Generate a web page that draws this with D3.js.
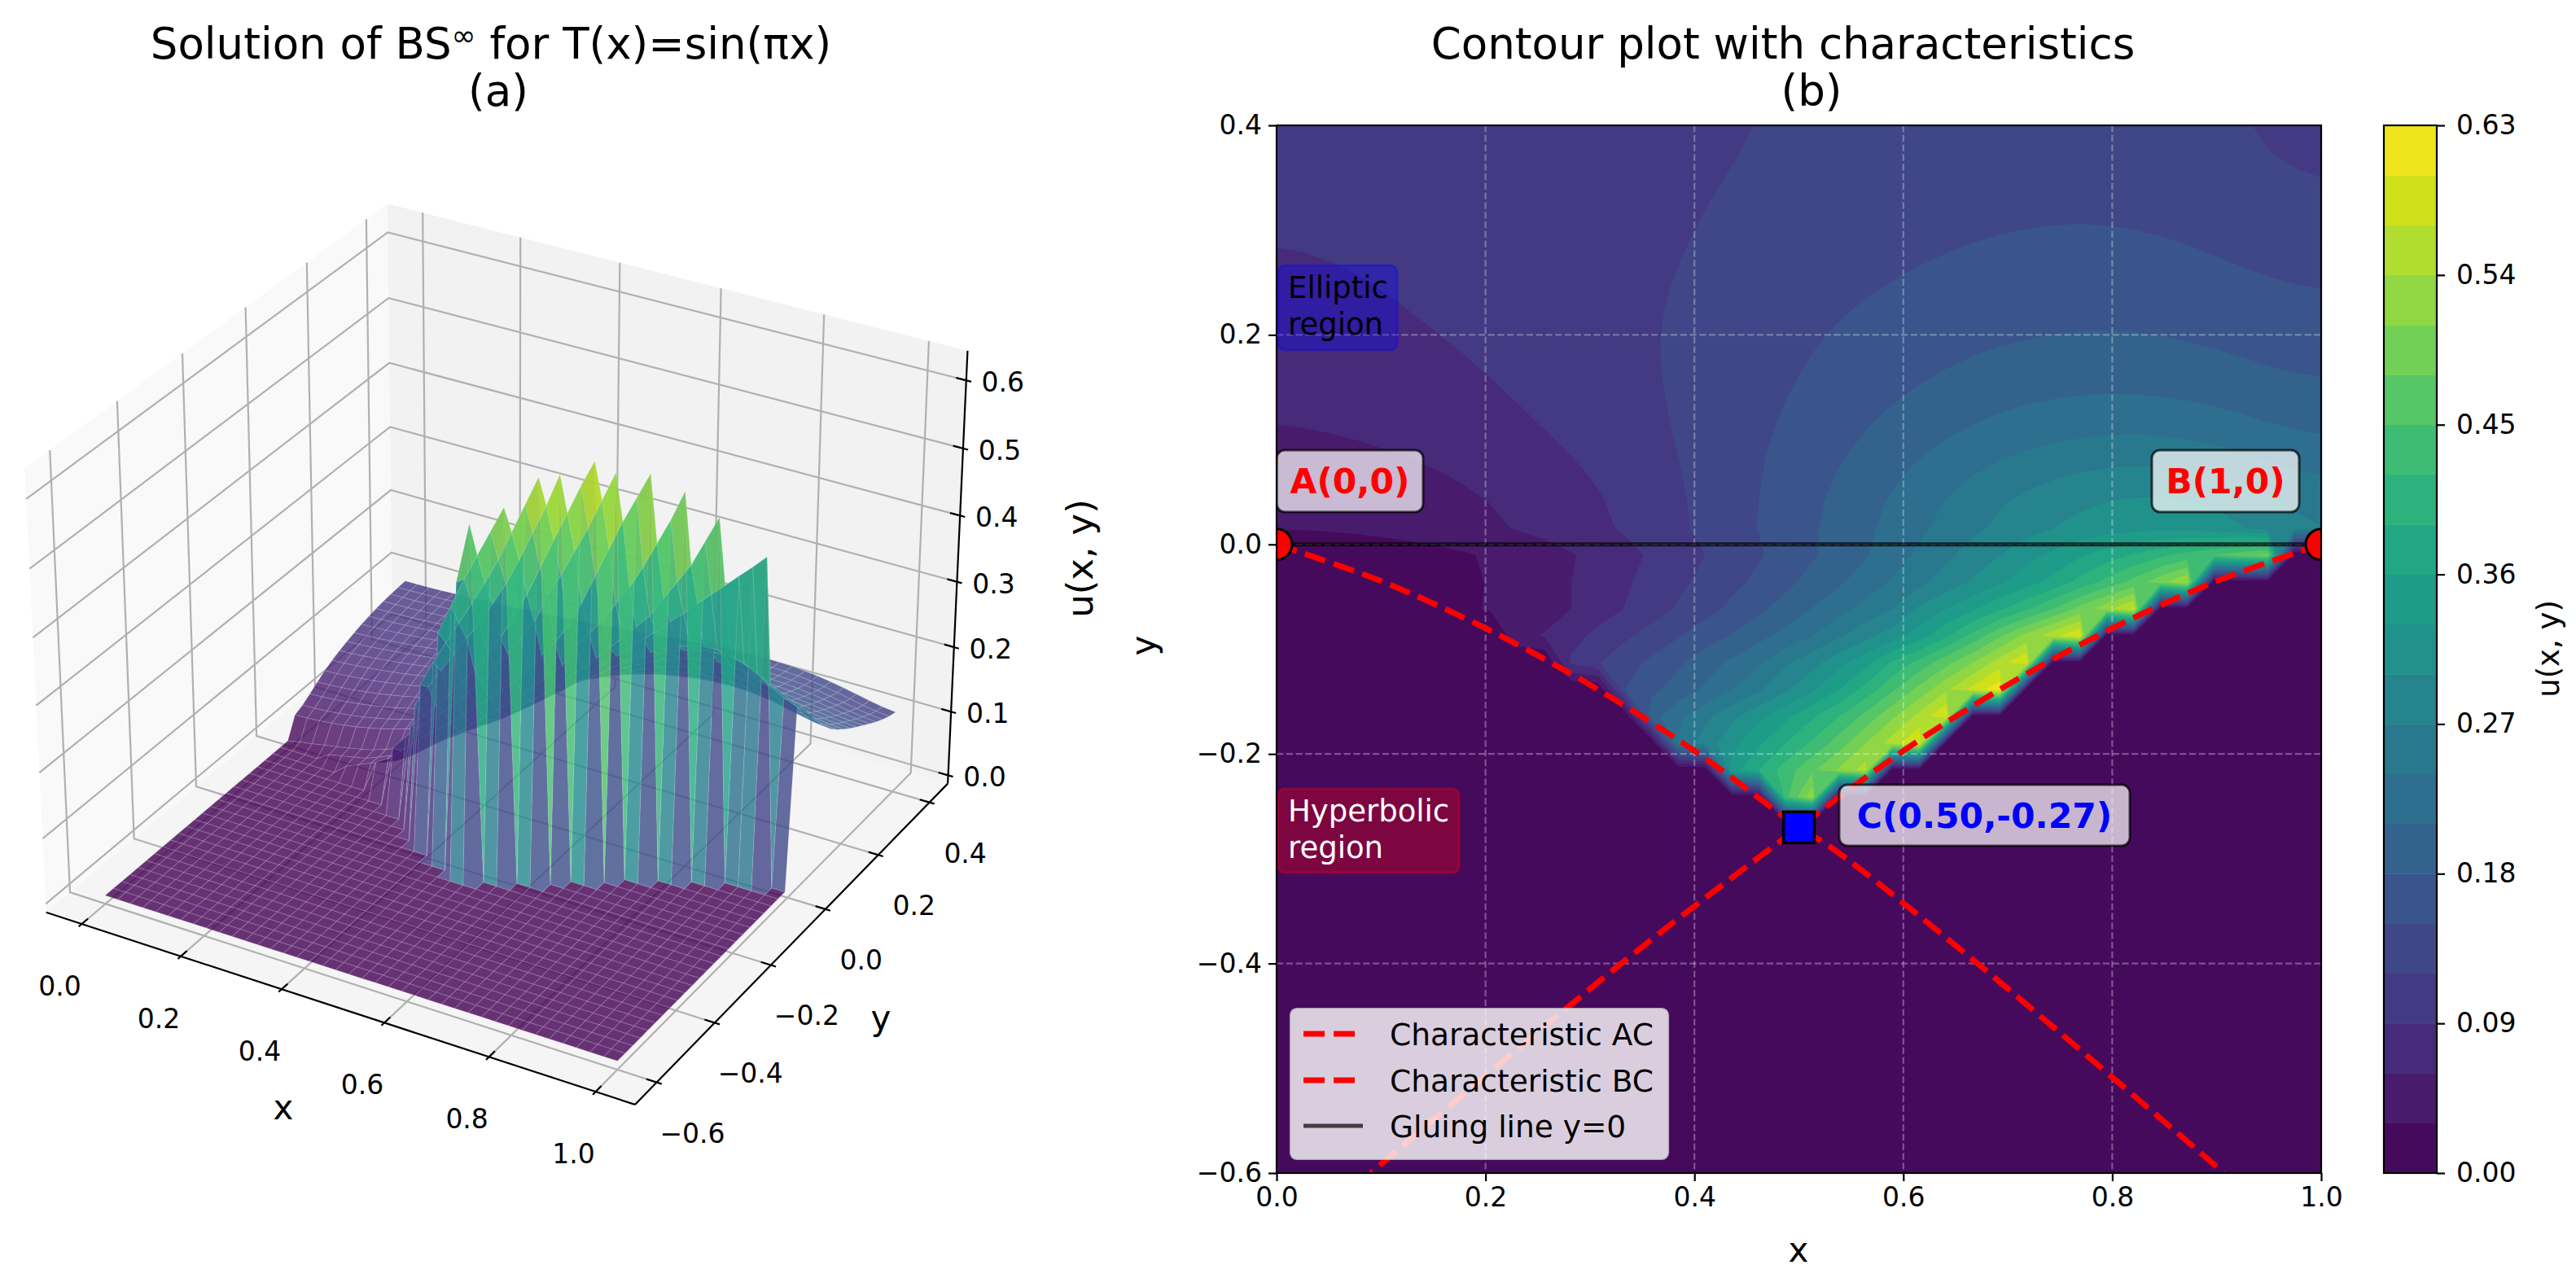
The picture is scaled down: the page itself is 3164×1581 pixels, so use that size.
<!DOCTYPE html>
<html>
<head>
<meta charset="utf-8">
<script src="https://cdn.jsdelivr.net/npm/d3@7"></script>
<style>
  body { margin: 0; background: #fff; }
  text { font-family: "DejaVu Sans", sans-serif; fill: #000; }
</style>
</head>
<body>
<div id="chart"></div>
<script>
// values of u(x, y). grid has 40 columns, x = 0 .. 1
// rows above the gluing line, from y = 0.015 up to y = 0.4
const uRowsAbove = [
  [.016,.017,.019,.021,.023,.026,.029,.034,.042,.049,.055,.062,.071,.084,.097,.109,.123,.137,.151,.164,.178,.193,.209,.226,.245,.264,.283,.302,.320,.336,.351,.363,.372,.378,.380,.375,.355,.330,.305,.285],
  [.034,.035,.036,.038,.041,.045,.049,.054,.059,.065,.071,.077,.084,.094,.105,.116,.128,.140,.153,.165,.178,.192,.207,.224,.240,.256,.269,.279,.289,.297,.304,.310,.313,.313,.311,.306,.297,.282,.265,.248],
  [.045,.046,.048,.050,.052,.056,.060,.065,.070,.076,.082,.087,.093,.102,.111,.120,.129,.139,.149,.160,.171,.183,.194,.206,.217,.228,.239,.250,.256,.261,.265,.268,.269,.268,.264,.258,.250,.240,.230,.220],
  [.054,.056,.058,.060,.062,.066,.070,.074,.078,.083,.089,.094,.100,.107,.114,.121,.129,.138,.147,.155,.164,.173,.182,.191,.199,.209,.219,.229,.234,.238,.241,.243,.244,.243,.239,.233,.227,.220,.212,.204],
  [.062,.064,.066,.068,.070,.073,.076,.080,.084,.089,.094,.099,.105,.111,.117,.123,.129,.136,.143,.151,.158,.166,.174,.182,.190,.197,.204,.210,.215,.218,.220,.222,.222,.221,.218,.213,.207,.201,.195,.190],
  [.067,.070,.072,.075,.077,.079,.081,.084,.088,.092,.097,.101,.107,.112,.118,.123,.129,.135,.142,.149,.155,.162,.169,.176,.183,.188,.193,.198,.202,.205,.207,.208,.208,.206,.203,.198,.193,.189,.184,.180],
  [.072,.075,.077,.080,.082,.084,.086,.088,.092,.096,.100,.104,.109,.114,.119,.124,.129,.134,.140,.146,.152,.158,.164,.170,.174,.178,.182,.186,.189,.191,.192,.193,.193,.191,.188,.184,.180,.177,.173,.170],
  [.076,.079,.081,.083,.085,.087,.089,.092,.095,.099,.103,.107,.111,.115,.119,.123,.127,.132,.137,.143,.148,.153,.158,.163,.166,.170,.176,.179,.181,.183,.184,.185,.185,.183,.178,.174,.171,.168,.165,.163],
  [.081,.083,.085,.087,.089,.091,.094,.097,.100,.103,.106,.109,.113,.117,.121,.125,.128,.133,.137,.141,.146,.150,.153,.156,.159,.161,.163,.166,.168,.169,.170,.170,.170,.169,.167,.165,.162,.160,.157,.155],
  [.085,.087,.088,.090,.091,.093,.095,.098,.100,.102,.105,.107,.110,.113,.117,.121,.124,.128,.132,.137,.141,.144,.147,.150,.154,.156,.158,.160,.162,.163,.164,.164,.164,.163,.162,.157,.155,.152,.149,.147],
  [.090,.090,.091,.091,.092,.094,.096,.098,.100,.102,.104,.107,.109,.112,.115,.119,.122,.126,.130,.134,.137,.140,.143,.145,.147,.151,.153,.154,.156,.156,.157,.157,.156,.155,.153,.150,.147,.143,.141,.138],
  [.092,.092,.093,.093,.094,.096,.098,.100,.101,.103,.105,.107,.109,.111,.114,.118,.121,.124,.127,.130,.134,.136,.139,.141,.143,.145,.149,.150,.151,.151,.151,.151,.151,.150,.148,.143,.141,.138,.134,.131],
  [.093,.094,.094,.095,.096,.098,.099,.101,.102,.104,.106,.107,.109,.112,.115,.117,.120,.122,.125,.128,.131,.133,.136,.138,.140,.141,.143,.144,.145,.145,.146,.146,.145,.144,.142,.139,.135,.131,.127,.123],
  [.095,.095,.096,.096,.097,.099,.100,.101,.102,.104,.105,.107,.109,.112,.114,.116,.118,.121,.123,.126,.129,.131,.133,.135,.137,.139,.140,.141,.142,.142,.142,.141,.141,.139,.137,.132,.128,.124,.120,.116],
  [.096,.097,.097,.098,.099,.100,.101,.102,.103,.105,.106,.107,.109,.111,.113,.115,.116,.118,.120,.123,.125,.127,.129,.131,.133,.134,.136,.137,.138,.138,.138,.138,.137,.135,.133,.128,.123,.118,.112,.106],
  [.098,.098,.099,.100,.100,.101,.102,.103,.104,.105,.106,.107,.109,.110,.112,.114,.115,.116,.118,.120,.122,.124,.126,.128,.129,.131,.132,.133,.134,.134,.134,.133,.132,.130,.127,.121,.116,.111,.106,.100]
];

// rows under the gluing line, from y = -0.010 down to y = -0.241
// only the cells that are not zero, belowStart is the first column of each row
const belowStart = [1, 4, 6, 9, 11, 13, 14, 15, 17, 19];
const uRowsBelow = [
  [.004,.007,.011,.014,.018,.022,.027,.034,.041,.048,.058,.069,.081,.094,.107,.120,.133,.147,.162,.177,.193,.208,.225,.246,.264,.282,.300,.319,.337,.356,.374,.394,.413,.432,.451,.470,.490],
  [.012,.016,.020,.024,.032,.040,.048,.060,.073,.086,.100,.114,.128,.142,.157,.173,.189,.206,.224,.243,.263,.283,.304,.325,.347,.369,.400,.430,.460,.500,.540],
  [.016,.024,.033,.040,.048,.060,.075,.091,.107,.123,.140,.157,.174,.192,.211,.230,.250,.270,.305,.330,.355,.385,.415,.450,.490,.530,.576],
  [.050,.062,.080,.098,.115,.131,.148,.165,.183,.201,.220,.240,.265,.290,.315,.345,.385,.430,.475,.520,.560,.600],
  [.095,.118,.138,.156,.175,.196,.216,.236,.265,.290,.320,.350,.395,.430,.470,.510,.555,.600],
  [.150,.172,.193,.215,.240,.265,.295,.325,.360,.400,.445,.490,.535,.580,.620],
  [.200,.232,.262,.292,.322,.352,.385,.420,.460,.505,.550,.600],
  [.245,.285,.320,.355,.390,.425,.465,.510,.555,.600],
  [.345,.390,.435,.475,.515,.555],
  [.440,.530]
];

const levels = d3.range(0, 22).map(i => i * 0.03);
const xTicks = [0, 0.2, 0.4, 0.6, 0.8, 1.0];
const yTicks = [-0.6, -0.4, -0.2, 0, 0.2, 0.4];
const zTicks = [0, 0.1, 0.2, 0.3, 0.4, 0.5, 0.6];
const barTicks = [0, 0.09, 0.18, 0.27, 0.36, 0.45, 0.54, 0.63];

// characteristics
const acX = [0, 0.1, 0.2, 0.3, 0.4, 0.5, 0.532, 0.671, 0.907];
const acY = [0, -0.035, -0.08, -0.134, -0.197, -0.27, -0.29, -0.4, -0.6];
const bcX = [1, 0.9, 0.8, 0.7, 0.6, 0.5, 0.33, 0.09];
const bcY = [0, -0.035, -0.08, -0.134, -0.197, -0.27, -0.4, -0.6];
const gluingX = [0, 1];
const gluingY = [0, 0];
const endPoints = [[0, 0], [1, 0]];
const pointC = [0.5, -0.27];

// hand read rows are a bit noisy above the line, the domes there are smooth
const gridN = 40;
const aboveFlat = { data: Float64Array.from(uRowsAbove.flat()), width: gridN, height: uRowsAbove.length };
d3.blur2(aboveFlat, 1.2);
const smoothAbove = d3.range(uRowsAbove.length).map(r => Array.from(aboveFlat.data.slice(r * gridN, (r + 1) * gridN)));

// full 40 x 40 matrix, row 0 is y = -0.6
const gridStep = 1 / (gridN - 1);
const zeroRows = d3.range(14).map(() => d3.range(gridN).map(() => 0));
const lowerRows = uRowsBelow.map((vals, r) => {
  let row = d3.range(gridN).map(() => 0);
  vals.forEach((v, i) => { row[belowStart[r] + i] = v; });
  return row;
}).reverse();
const matrix = zeroRows.concat(lowerRows, smoothAbove);
const flatValues = matrix.flat();
const gridX = j => j * gridStep;
const gridY = k => -0.6 + k * gridStep;

const svg = d3.select("#chart").append("svg")
  .attr("width", 3164)
  .attr("height", 1581);

const lineW = 2.2;

// ---------- left panel, the 3d surface ----------
// same camera as matplotlib: elev 30, azim -60, dist 10
const xBox = d3.scaleLinear().domain([-0.0729, 1.0729]).range([-0.5952, 0.5952]);
const yBox = d3.scaleLinear().domain([-0.6729, 0.4729]).range([-0.5952, 0.5952]);
const zBox = d3.scaleLinear().domain([-0.0131, 0.6431]).range([-0.4464, 0.4464]);
const xMin = xBox.domain()[0], xMax = xBox.domain()[1];
const yMin = yBox.domain()[0], yMax = yBox.domain()[1];
const zMin = zBox.domain()[0], zMax = zBox.domain()[1];
const el = 30 * Math.PI / 180, az = -60 * Math.PI / 180;
const camW = [Math.cos(el) * Math.cos(az), Math.cos(el) * Math.sin(az), Math.sin(el)];
const camU = [-Math.sin(az), Math.cos(az), 0];
const camV = [-Math.sin(el) * Math.cos(az), -Math.sin(el) * Math.sin(az), Math.cos(el)];
const dot = (a, b) => a[0] * b[0] + a[1] * b[1] + a[2] * b[2];

function depth(x, y, z) {
  return 10 - dot(camW, [xBox(x), yBox(y), zBox(z)]);
}
function project(x, y, z) {
  let p = [xBox(x), yBox(y), zBox(z)];
  let d = 10 - dot(camW, p);
  return [620.6 + 6960 * dot(camU, p) / d, 777 - 6960 * dot(camV, p) / d];
}
const poly = pts => pts.map(p => project(p[0], p[1], p[2]).join(",")).join(" ");
const path3 = pts => "M" + pts.map(p => project(p[0], p[1], p[2]).join(",")).join("L");

let left = svg.append("g");

// panes
left.append("polygon").attr("fill", "#f9f9f9")
  .attr("points", poly([[xMin, yMin, zMin], [xMin, yMax, zMin], [xMin, yMax, zMax], [xMin, yMin, zMax]]));
left.append("polygon").attr("fill", "#f2f2f2")
  .attr("points", poly([[xMin, yMax, zMin], [xMax, yMax, zMin], [xMax, yMax, zMax], [xMin, yMax, zMax]]));
left.append("polygon").attr("fill", "#f5f5f5")
  .attr("points", poly([[xMin, yMin, zMin], [xMax, yMin, zMin], [xMax, yMax, zMin], [xMin, yMax, zMin]]));

// grid lines on the panes
let gridPaths = [];
xTicks.forEach(t => gridPaths.push([[t, yMin, zMin], [t, yMax, zMin], [t, yMax, zMax]]));
yTicks.forEach(t => gridPaths.push([[xMax, t, zMin], [xMin, t, zMin], [xMin, t, zMax]]));
zTicks.forEach(t => gridPaths.push([[xMax, yMax, t], [xMin, yMax, t], [xMin, yMin, t]]));
left.selectAll(".grid3").data(gridPaths).enter().append("path")
  .attr("class", "grid3")
  .attr("d", path3)
  .attr("fill", "none")
  .attr("stroke", "#b0b0b0")
  .attr("stroke-width", lineW);

// axis lines and ticks
let axisPaths = [
  [[xMin, yMin, zMin], [xMax, yMin, zMin]],
  [[xMax, yMin, zMin], [xMax, yMax, zMin]],
  [[xMax, yMax, zMin], [xMax, yMax, zMax]]
];
xTicks.forEach(t => axisPaths.push([[t, yMin - 0.0095, zMin], [t, yMin + 0.019, zMin]]));
yTicks.forEach(t => axisPaths.push([[xMax + 0.0095, t, zMin], [xMax - 0.019, t, zMin]]));
zTicks.forEach(t => axisPaths.push([[xMax + 0.0095, yMax, t], [xMax - 0.019, yMax, t]]));
left.selectAll(".axis3").data(axisPaths).enter().append("path")
  .attr("class", "axis3")
  .attr("d", path3)
  .attr("fill", "none")
  .attr("stroke", "#000")
  .attr("stroke-width", lineW);

// surface facets, far ones first
let facets = [];
for (let k = 0; k < gridN - 1; k++) {
  for (let j = 0; j < gridN - 1; j++) {
    let corners = [
      [gridX(j), gridY(k), matrix[k][j]],
      [gridX(j + 1), gridY(k), matrix[k][j + 1]],
      [gridX(j + 1), gridY(k + 1), matrix[k + 1][j + 1]],
      [gridX(j), gridY(k + 1), matrix[k + 1][j]]
    ];
    facets.push({
      corners: corners,
      z: d3.mean(corners, c => c[2]),
      d: d3.mean(corners, c => depth(c[0], c[1], c[2]))
    });
  }
}
facets.sort((a, b) => b.d - a.d);
const surfaceColor = d3.scaleSequential(d3.interpolateViridis).domain([0, d3.max(flatValues)]);
left.append("g").selectAll("polygon").data(facets).enter().append("polygon")
  .attr("points", d => poly(d.corners))
  .attr("fill", d => surfaceColor(d.z))
  .attr("fill-opacity", 0.8)
  .attr("stroke", "#fff")
  .attr("stroke-opacity", 0.12)
  .attr("stroke-width", 1.2);

// 3d tick labels
function label3(t, pos, dx, dy, fmt) {
  let p = project(pos[0], pos[1], pos[2]);
  left.append("text")
    .attr("x", p[0] + dx)
    .attr("y", p[1] + dy)
    .attr("dy", "0.36em")
    .attr("text-anchor", "middle")
    .attr("font-size", 33)
    .text(fmt(t));
}
const fmt1 = d3.format(".1f");
xTicks.forEach(t => label3(t, [t, yMin, zMin], -27, 76, fmt1));
yTicks.forEach(t => label3(t, [xMax, t, zMin], 44, 62, fmt1));
zTicks.forEach(t => label3(t, [xMax, yMax, t], 45, 2, fmt1));

left.append("text").attr("x", 348).attr("y", 1367).attr("dy", "0.2em")
  .attr("text-anchor", "middle").attr("font-size", 42).text("x");
left.append("text").attr("x", 1082).attr("y", 1257).attr("dy", "0.2em")
  .attr("text-anchor", "middle").attr("font-size", 42).text("y");
left.append("text").attr("transform", "translate(1328,686) rotate(-90)").attr("dy", "0.3em")
  .attr("text-anchor", "middle").attr("font-size", 45).text("u(x, y)");

let t1 = left.append("text").attr("x", 603).attr("y", 72)
  .attr("text-anchor", "middle").attr("font-size", 53);
t1.append("tspan").text("Solution of BS");
t1.append("tspan").attr("font-size", 36).attr("dy", -16).text("\u221e");
t1.append("tspan").attr("dy", 16).text(" for T(x)=sin(\u03c0x)");
left.append("text").attr("x", 612).attr("y", 130)
  .attr("text-anchor", "middle").attr("font-size", 53).text("(a)");

// ---------- right panel, filled contours ----------
const plotL = 1568, plotR = 2851, plotT = 154, plotB = 1441;
const x = d3.scaleLinear().domain([0, 1]).range([plotL, plotR]);
const y = d3.scaleLinear().domain([-0.6, 0.4]).range([plotB, plotT]);

svg.append("clipPath").attr("id", "plotClip").append("rect")
  .attr("x", plotL).attr("y", plotT)
  .attr("width", plotR - plotL).attr("height", plotB - plotT);

let right = svg.append("g").attr("clip-path", "url(#plotClip)");

const bandColor = i => d3.interpolateViridis((levels[i] + 0.015) / 0.63);

right.append("rect")
  .attr("x", plotL).attr("y", plotT)
  .attr("width", plotR - plotL).attr("height", plotB - plotT)
  .attr("fill", bandColor(0));

const contours = d3.contours()
  .size([gridN, gridN])
  .thresholds(levels.slice(1, 21))(flatValues);

// d3 puts grid point j at j + 0.5
const gx = d3.scaleLinear().domain([0.5, gridN - 0.5]).range([x(0), x(1)]);
const gy = d3.scaleLinear().domain([0.5, gridN - 0.5]).range([y(-0.6), y(0.4)]);
const contourPath = d3.geoPath(d3.geoTransform({
  point: function(px, py) { this.stream.point(gx(px), gy(py)); }
}));

right.selectAll(".band").data(contours).enter().append("path")
  .attr("class", "band")
  .attr("d", contourPath)
  .attr("fill", (d, i) => bandColor(i + 1));

// dashed grid
right.selectAll(".gridx").data(xTicks).enter().append("line")
  .attr("class", "gridx")
  .attr("x1", d => x(d)).attr("x2", d => x(d))
  .attr("y1", plotT).attr("y2", plotB);
right.selectAll(".gridy").data(yTicks).enter().append("line")
  .attr("class", "gridy")
  .attr("x1", plotL).attr("x2", plotR)
  .attr("y1", d => y(d)).attr("y2", d => y(d));
right.selectAll(".gridx,.gridy")
  .attr("stroke", "#fff")
  .attr("stroke-opacity", 0.3)
  .attr("stroke-width", lineW)
  .attr("stroke-dasharray", "8.2,3.6");

const lineGen = d3.line().x(d => x(d[0])).y(d => y(d[1])).curve(d3.curveCatmullRom);

right.append("path")
  .datum(gluingX.map((v, i) => [v, gluingY[i]]))
  .attr("d", lineGen)
  .attr("stroke", "#000").attr("stroke-opacity", 0.7).attr("stroke-width", 5).attr("fill", "none");

[[acX, acY], [bcX, bcY]].forEach(c => {
  right.append("path")
    .datum(c[0].map((v, i) => [v, c[1][i]]))
    .attr("d", lineGen)
    .attr("stroke", "#f00").attr("stroke-width", 7).attr("fill", "none")
    .attr("stroke-dasharray", "26,11");
});

right.selectAll(".endpoint").data(endPoints).enter().append("circle")
  .attr("class", "endpoint")
  .attr("cx", d => x(d[0])).attr("cy", d => y(d[1]))
  .attr("r", 19)
  .attr("fill", "#f00").attr("stroke", "#000").attr("stroke-width", 3);

right.append("rect")
  .attr("x", x(pointC[0]) - 19).attr("y", y(pointC[1]) - 19)
  .attr("width", 38).attr("height", 38)
  .attr("fill", "#00f").attr("stroke", "#000").attr("stroke-width", 3.5);

// point labels
function pointLabel(txt, color, bx0, bx1, by0, by1) {
  right.append("rect")
    .attr("x", bx0).attr("y", by0)
    .attr("width", bx1 - bx0).attr("height", by1 - by0)
    .attr("rx", 10)
    .attr("fill", "#fff").attr("fill-opacity", 0.7)
    .attr("stroke", "#000").attr("stroke-opacity", 0.7).attr("stroke-width", 3);
  right.append("text")
    .attr("x", (bx0 + bx1) / 2).attr("y", (by0 + by1) / 2)
    .attr("dy", "0.36em")
    .attr("text-anchor", "middle")
    .attr("font-size", 42.5).attr("font-weight", "bold")
    .style("fill", color)
    .text(txt);
}
pointLabel("A(0,0)", "#f00", 1568, 1748, 553, 629);
pointLabel("B(1,0)", "#f00", 2643, 2824, 553, 629);
pointLabel("C(0.50,-0.27)", "#00f", 2259, 2616, 964, 1039);

// region labels
function regionLabel(lines, fill, color, bx0, bx1, by0, by1, ty) {
  right.append("rect")
    .attr("x", bx0).attr("y", by0)
    .attr("width", bx1 - bx0).attr("height", by1 - by0)
    .attr("rx", 8)
    .attr("fill", fill).attr("fill-opacity", 0.3)
    .attr("stroke", fill).attr("stroke-opacity", 0.3).attr("stroke-width", 3);
  lines.forEach((l, i) => {
    right.append("text")
      .attr("x", bx0 + 12).attr("y", ty + i * 45)
      .attr("dy", "0.36em")
      .attr("font-size", 37)
      .style("fill", color)
      .text(l);
  });
}
regionLabel(["Elliptic", "region"], "#00f", "#000", 1570, 1716, 326, 430, 353);
regionLabel(["Hyperbolic", "region"], "#f00", "#fff", 1570, 1792, 969, 1072, 996);

// legend
const legendLabels = ["Characteristic AC", "Characteristic BC", "Gluing line y=0"];
const legendY = [1270, 1327, 1383];
let legend = svg.append("g");
legend.append("rect")
  .attr("x", 1585).attr("y", 1239).attr("width", 464).attr("height", 185)
  .attr("rx", 8)
  .attr("fill", "#fff").attr("fill-opacity", 0.8)
  .attr("stroke", "#ccc").attr("stroke-opacity", 0.8).attr("stroke-width", lineW);
legendLabels.forEach((l, i) => {
  legend.append("line")
    .attr("x1", 1601).attr("x2", 1674)
    .attr("y1", legendY[i]).attr("y2", legendY[i])
    .attr("stroke", i < 2 ? "#f00" : "#000")
    .attr("stroke-opacity", i < 2 ? 1 : 0.7)
    .attr("stroke-width", i < 2 ? 7 : 5)
    .attr("stroke-dasharray", i < 2 ? "26,11" : null);
  legend.append("text")
    .attr("x", 1707).attr("y", legendY[i])
    .attr("dy", "0.36em")
    .attr("font-size", 37.5)
    .text(l);
});

// spines and axes
svg.append("rect")
  .attr("x", plotL).attr("y", plotT)
  .attr("width", plotR - plotL).attr("height", plotB - plotT)
  .attr("fill", "none").attr("stroke", "#000").attr("stroke-width", lineW);

function styleAxis(g) {
  g.select(".domain").remove();
  g.selectAll("line").attr("stroke", "#000").attr("stroke-width", lineW);
  g.selectAll("text").attr("font-size", 33).attr("font-family", "DejaVu Sans");
}

svg.append("g")
  .attr("transform", `translate(0, ${plotB})`)
  .call(d3.axisBottom(x).tickValues(xTicks).tickFormat(fmt1).tickSize(10).tickPadding(8))
  .call(styleAxis);
svg.append("g")
  .attr("transform", `translate(${plotL}, 0)`)
  .call(d3.axisLeft(y).tickValues(yTicks).tickFormat(fmt1).tickSize(10).tickPadding(8))
  .call(styleAxis);

svg.append("text").attr("x", 2209).attr("y", 1542).attr("dy", "0.2em")
  .attr("text-anchor", "middle").attr("font-size", 42).text("x");
svg.append("text").attr("transform", "translate(1411,793) rotate(-90)").attr("dy", "0.2em")
  .attr("text-anchor", "middle").attr("font-size", 42).text("y");

svg.append("text").attr("x", 2190).attr("y", 72)
  .attr("text-anchor", "middle").attr("font-size", 53).text("Contour plot with characteristics");
svg.append("text").attr("x", 2225).attr("y", 130)
  .attr("text-anchor", "middle").attr("font-size", 53).text("(b)");

// ---------- colorbar ----------
const barL = 2928, barR = 2993;
const barScale = d3.scaleLinear().domain([0, 0.63]).range([plotB, plotT]);
svg.selectAll(".cbar").data(levels.slice(0, 21)).enter().append("rect")
  .attr("class", "cbar")
  .attr("x", barL)
  .attr("y", d => barScale(d + 0.03))
  .attr("width", barR - barL)
  .attr("height", d => barScale(d) - barScale(d + 0.03) + 0.5)
  .attr("fill", (d, i) => bandColor(i));
svg.append("rect")
  .attr("x", barL).attr("y", plotT)
  .attr("width", barR - barL).attr("height", plotB - plotT)
  .attr("fill", "none").attr("stroke", "#000").attr("stroke-width", lineW);
svg.append("g")
  .attr("transform", `translate(${barR}, 0)`)
  .call(d3.axisRight(barScale).tickValues(barTicks).tickFormat(d3.format(".2f")).tickSize(10).tickPadding(14))
  .call(styleAxis);
svg.append("text").attr("transform", "translate(3132,797) rotate(-90)").attr("dy", "0.3em")
  .attr("text-anchor", "middle").attr("font-size", 37).text("u(x, y)");
</script>
</body>
</html>
